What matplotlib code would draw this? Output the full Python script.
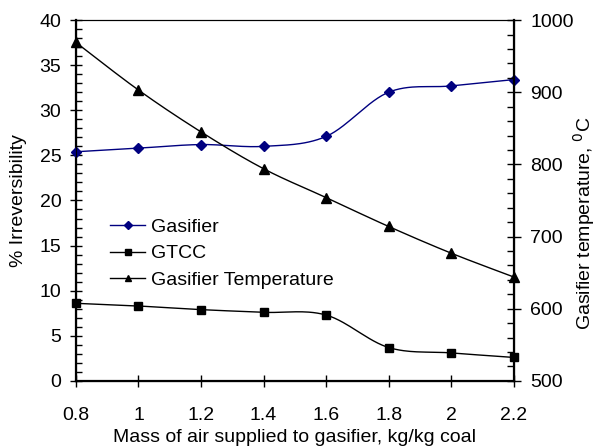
import numpy as np
import matplotlib.pyplot as plt
from matplotlib.ticker import MultipleLocator

plt.rcParams['font.family'] = ['Liberation Sans', 'DejaVu Sans']

# Data
air_mass = [0.8, 1.0, 1.2, 1.4, 1.6, 1.8, 2.0, 2.2]
gasifier = [25.4, 25.8, 26.2, 26.0, 27.1, 32.0, 32.7, 33.4]
gtcc = [8.6, 8.3, 7.9, 7.6, 7.3, 3.7, 3.1, 2.6]
gasifier_temp = [969, 903, 845, 794, 754, 714, 677, 644]
x_labels = ['0.8', '1', '1.2', '1.4', '1.6', '1.8', '2', '2.2']


# Excel-style smoothed line (Bezier through the points)
def smooth(x, y, n=30):
    x = np.asarray(x, float)
    y = np.asarray(y, float)
    px, py = [], []
    for i in range(len(x) - 1):
        i0 = max(i - 1, 0)
        i3 = min(i + 2, len(x) - 1)
        c1x = x[i] + (x[i + 1] - x[i0]) / 6
        c1y = y[i] + (y[i + 1] - y[i0]) / 6
        c2x = x[i + 1] - (x[i3] - x[i]) / 6
        c2y = y[i + 1] - (y[i3] - y[i]) / 6
        t = np.linspace(0, 1, n)
        px.append((1 - t)**3 * x[i] + 3 * (1 - t)**2 * t * c1x + 3 * (1 - t) * t**2 * c2x + t**3 * x[i + 1])
        py.append((1 - t)**3 * y[i] + 3 * (1 - t)**2 * t * c1y + 3 * (1 - t) * t**2 * c2y + t**3 * y[i + 1])
    return np.concatenate(px), np.concatenate(py)


fig, ax = plt.subplots(figsize=(5.98, 4.46), dpi=100)
fig.subplots_adjust(left=0.127, right=0.859, top=0.955, bottom=0.146)
ax2 = ax.twinx()

navy = '#000080'
fs = 14

sx, sy = smooth(air_mass, gasifier)
ax.plot(sx, sy, color=navy, lw=1, clip_on=False)
ax.plot(air_mass, gasifier, color=navy, marker='D', ms=5.5, ls='none', clip_on=False, zorder=5)

sx, sy = smooth(air_mass, gtcc)
ax.plot(sx, sy, color='black', lw=1, clip_on=False)
ax.plot(air_mass, gtcc, color='black', marker='s', ms=6, ls='none', clip_on=False, zorder=5)

sx, sy = smooth(air_mass, gasifier_temp)
ax2.plot(sx, sy, color='black', lw=1, clip_on=False)
ax2.plot(air_mass, gasifier_temp, color='black', marker='^', ms=6.5, ls='none', clip_on=False, zorder=5)

# legend proxies with lines through the markers
l1, = ax.plot([], [], color=navy, lw=1, marker='D', ms=4.5)
l2, = ax.plot([], [], color='black', lw=1, marker='s', ms=4)
l3, = ax.plot([], [], color='black', lw=1, marker='^', ms=5)
ax.legend([l1, l2, l3], ['Gasifier', 'GTCC', 'Gasifier Temperature'],
          loc='upper left', bbox_to_anchor=(0.078, 0.45), frameon=False,
          fontsize=fs, handlelength=1.8, handletextpad=0.3, labelspacing=0.45,
          borderpad=0, borderaxespad=0)

ax.set_xlim(0.8, 2.2)
ax.set_ylim(0, 40)
ax2.set_ylim(500, 1000)
ax.set_xticks(air_mass)
ax.set_xticklabels(x_labels)
ax.yaxis.set_major_locator(MultipleLocator(5))
ax.yaxis.set_minor_locator(MultipleLocator(1))
ax2.yaxis.set_major_locator(MultipleLocator(100))
ax2.yaxis.set_minor_locator(MultipleLocator(20))

ax.tick_params(axis='x', which='major', direction='inout', length=9, width=1, labelsize=fs, pad=14)
ax.tick_params(axis='y', which='major', direction='inout', length=9, width=1, labelsize=fs, pad=6)
ax.tick_params(axis='y', which='minor', direction='in', length=4.5, width=1)
ax2.tick_params(axis='y', which='major', direction='inout', length=10, width=1, labelsize=fs, pad=7)
ax2.tick_params(axis='y', which='minor', direction='in', length=5, width=1)

ax.spines['left'].set_linewidth(1.6)
ax.spines['bottom'].set_linewidth(1.6)
ax2.spines['right'].set_linewidth(1.6)

ax.set_xlabel('Mass of air supplied to gasifier, kg/kg coal', fontsize=fs, labelpad=4)
ax.set_ylabel('% Irreversibility', fontsize=fs, labelpad=9)
fig.text(0.999, 0.5, 'Gasifier temperature, $^{0}$C', fontsize=fs, rotation=90,
         ha='right', va='center')

fig.savefig('out.png', dpi=100)
